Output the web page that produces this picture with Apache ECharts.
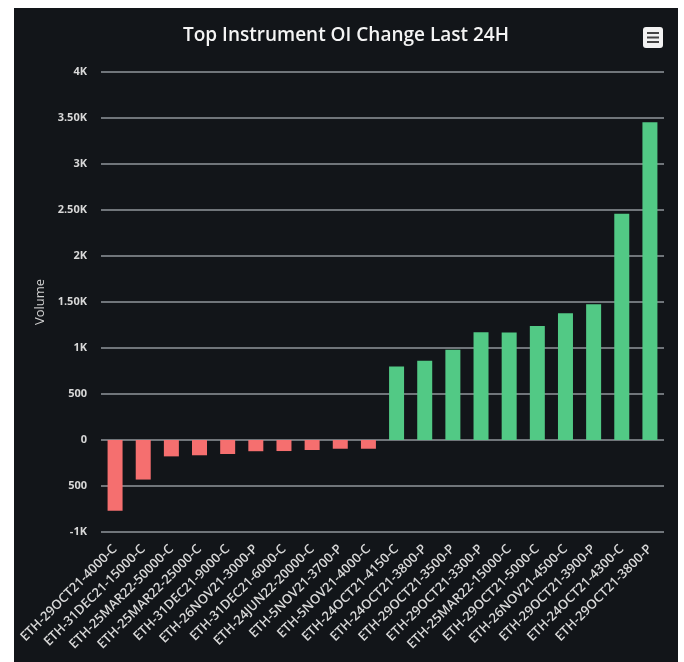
<!DOCTYPE html>
<html>
<head>
<meta charset="utf-8">
<script src="https://cdn.jsdelivr.net/npm/echarts@6/dist/echarts.min.js"></script>
<style>
  html, body { margin: 0; padding: 0; background: #ffffff; }
  #chart {
    position: absolute;
    left: 14px;
    top: 8px;
    width: 664px;
    height: 654px;
    background: #121519;
  }
</style>
</head>
<body>
<div id="chart"></div>
<script>
// 合约名称（类目轴）
const instruments = [
  'ETH-29OCT21-4000-C', 'ETH-31DEC21-15000-C', 'ETH-25MAR22-50000-C', 'ETH-25MAR22-25000-C',
  'ETH-31DEC21-9000-C', 'ETH-26NOV21-3000-P', 'ETH-31DEC21-6000-C', 'ETH-24JUN22-20000-C',
  'ETH-5NOV21-3700-P', 'ETH-5NOV21-4000-C', 'ETH-24OCT21-4150-C', 'ETH-24OCT21-3800-P',
  'ETH-29OCT21-3500-P', 'ETH-29OCT21-3300-P', 'ETH-25MAR22-15000-C', 'ETH-29OCT21-5000-C',
  'ETH-26NOV21-4500-C', 'ETH-29OCT21-3900-P', 'ETH-24OCT21-4300-C', 'ETH-29OCT21-3800-P'
];

// 24小时OI变化
const oiChange = [
  -770, -430, -178, -166, -152, -122, -120, -109, -95, -95,
  800, 862, 980, 1170, 1168, 1240, 1378, 1476, 2460, 3455
];

// y轴刻度文字（自下而上）
const tickLabels = ['-1K', '500', '0', '500', '1K', '1.50K', '2K', '2.50K', '3K', '3.50K', '4K'];

const chart = echarts.init(document.getElementById('chart'));

const option = {
  backgroundColor: '#121519',
  animation: false,
  title: {
    text: 'Top Instrument OI Change Last 24H',
    left: 'center',
    top: 13,
    textStyle: {
      color: '#f4f4f4',
      fontFamily: 'Open Sans',
      fontSize: 19,
      fontWeight: 600
    }
  },
  grid: {
    left: 87,
    right: 14,
    top: 64,
    bottom: 130
  },
  xAxis: {
    type: 'category',
    data: instruments,
    position: 'bottom',
    axisLine: { show: false, onZero: false },
    axisTick: { show: false },
    axisLabel: {
      interval: 0,
      rotate: 45,
      margin: 15,
      color: '#d8d8d8',
      fontFamily: 'Open Sans',
      fontWeight: 600,
      fontSize: 13
    }
  },
  yAxis: {
    type: 'value',
    min: -1000,
    max: 4000,
    interval: 500,
    name: 'Volume',
    nameLocation: 'middle',
    nameGap: 54,
    nameTextStyle: {
      color: '#d0d0d0',
      fontFamily: 'Open Sans',
      fontSize: 13
    },
    axisLine: { show: false },
    axisTick: { show: false },
    axisLabel: {
      margin: 14,
      color: '#d8d8d8',
      fontFamily: 'Open Sans',
      fontWeight: 'bold',
      fontSize: 11,
      formatter: (v) => tickLabels[Math.round((v + 1000) / 500)]
    },
    splitLine: {
      show: true,
      lineStyle: { color: '#70757a', width: 2 }
    }
  },
  series: [{
    type: 'bar',
    data: oiChange,
    barWidth: 15,
    itemStyle: {
      color: (p) => (p.value < 0 ? '#f56f6f' : '#52c985')
    }
  }],
  // 右上角菜单按钮
  graphic: [{
    type: 'group',
    right: 15,
    top: 19,
    children: [
      { type: 'rect', shape: { x: 0, y: 0, width: 20, height: 21, r: 3 }, style: { fill: '#f2f2f2' } },
      { type: 'rect', shape: { x: 4, y: 5, width: 12, height: 2 }, style: { fill: '#444' } },
      { type: 'rect', shape: { x: 4, y: 9.5, width: 12, height: 2 }, style: { fill: '#444' } },
      { type: 'rect', shape: { x: 4, y: 14, width: 12, height: 2 }, style: { fill: '#444' } }
    ]
  }]
};

chart.setOption(option);
window.addEventListener('resize', () => chart.resize());
</script>
</body>
</html>
